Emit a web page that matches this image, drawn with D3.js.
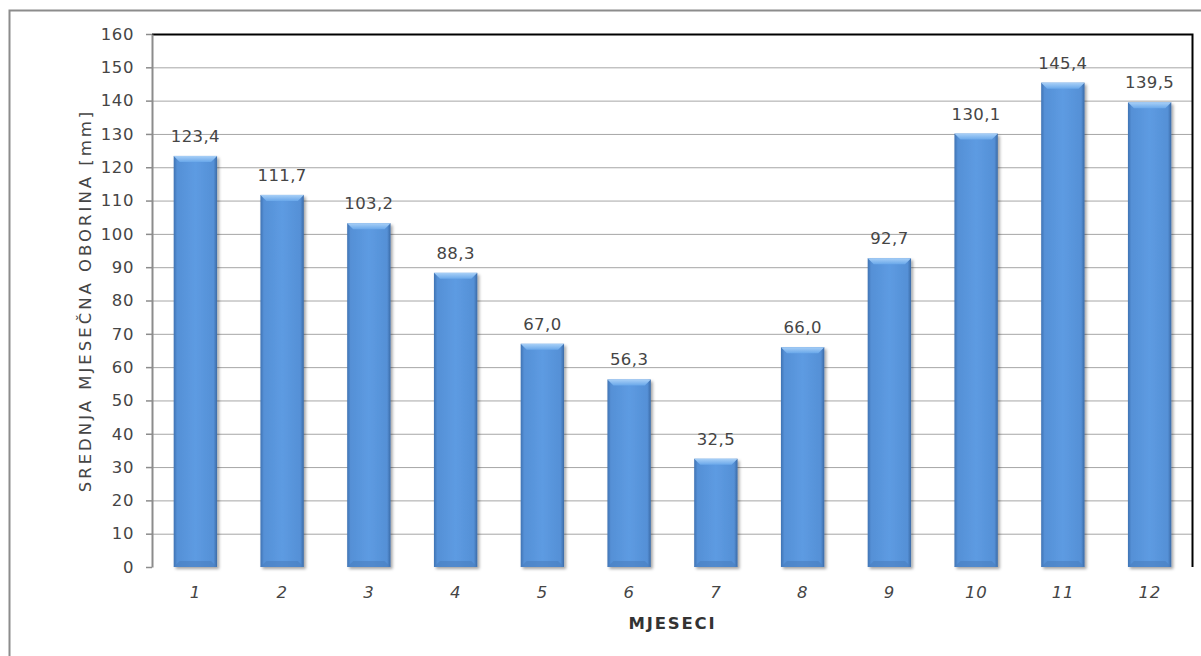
<!DOCTYPE html>
<html>
<head>
<meta charset="utf-8">
<script src="https://cdn.jsdelivr.net/npm/d3@7"></script>
<style>
  html, body { margin: 0; padding: 0; background: #fff; }
  svg { display: block; font-family: "DejaVu Sans", "Open Sans", sans-serif; }
</style>
</head>
<body>
<svg id="chart" width="1201" height="656"></svg>
<script>
// Mean monthly precipitation (mm) by month
const months = ["1", "2", "3", "4", "5", "6", "7", "8", "9", "10", "11", "12"];
const precipitation = [123.4, 111.7, 103.2, 88.3, 67.0, 56.3, 32.5, 66.0, 92.7, 130.1, 145.4, 139.5];
const yTicks = [0, 10, 20, 30, 40, 50, 60, 70, 80, 90, 100, 110, 120, 130, 140, 150, 160];

const svg = d3.select("#chart");
const W = 1201, H = 656;
const plot = { left: 152, right: 1193, top: 34, bottom: 567 };
const textColor = "#454545";
const fontSize = "16.5px";

// outer frame of the chart area
svg.append("rect")
  .attr("x", 9.5).attr("y", 10.5)
  .attr("width", W).attr("height", H)
  .attr("fill", "#fff").attr("stroke", "#8c8c8c").attr("stroke-width", 2);

const x = d3.scaleBand().domain(months).range([plot.left, plot.right]).paddingInner(0.5).paddingOuter(0.25);
const y = d3.scaleLinear().domain([0, 160]).range([plot.bottom, plot.top]);

const defs = svg.append("defs");
const grad = defs.append("linearGradient").attr("id", "barGrad").attr("x1", 0).attr("x2", 1).attr("y1", 0).attr("y2", 0);
grad.append("stop").attr("offset", "0%").attr("stop-color", "#3f73b3");
grad.append("stop").attr("offset", "8%").attr("stop-color", "#5590d6");
grad.append("stop").attr("offset", "50%").attr("stop-color", "#5d9be2");
grad.append("stop").attr("offset", "92%").attr("stop-color", "#5590d6");
grad.append("stop").attr("offset", "100%").attr("stop-color", "#3b6aa6");
const bevel = defs.append("linearGradient").attr("id", "bevelGrad").attr("x1", 0).attr("x2", 0).attr("y1", 0).attr("y2", 1);
bevel.append("stop").attr("offset", "0%").attr("stop-color", "#a9d0f7");
bevel.append("stop").attr("offset", "100%").attr("stop-color", "#6aa8ea");
const shadow = defs.append("filter").attr("id", "shadow").attr("x", "-20%").attr("y", "-5%").attr("width", "150%").attr("height", "115%");
shadow.append("feDropShadow").attr("dx", 2).attr("dy", 2).attr("stdDeviation", 1.6).attr("flood-color", "#000").attr("flood-opacity", 0.35);

// horizontal gridlines
svg.append("g").selectAll("line").data(yTicks.filter(d => d > 0 && d < 160)).join("line")
  .attr("x1", plot.left).attr("x2", plot.right)
  .attr("y1", d => y(d) + 0.5).attr("y2", d => y(d) + 0.5)
  .attr("stroke", "#a6a6a6").attr("stroke-width", 1);

// top and right plot borders
svg.append("path")
  .attr("d", `M${plot.left},${plot.top + 0.5}H${plot.right - 0.5}V${plot.bottom}`)
  .attr("fill", "none").attr("stroke", "#000").attr("stroke-width", 2);

// bottom axis with a soft shadow
svg.append("line")
  .attr("x1", plot.left).attr("x2", plot.right).attr("y1", plot.bottom + 0.5).attr("y2", plot.bottom + 0.5)
  .attr("stroke", "#8c8c8c").attr("stroke-width", 2).attr("filter", "url(#shadow)");

// y axis
const yAxis = svg.append("g").attr("transform", `translate(${plot.left},0)`)
  .call(d3.axisLeft(y).tickValues(yTicks).tickSize(6).tickPadding(12).tickSizeOuter(0));
yAxis.select(".domain").attr("stroke", "#8c8c8c").attr("stroke-width", 2);
yAxis.selectAll(".tick line").attr("stroke", "#8c8c8c").attr("stroke-width", 1.5);
yAxis.selectAll(".tick text").attr("fill", textColor)
  .style("font-size", fontSize).style("font-family", "DejaVu Sans").style("letter-spacing", "0.6px");

// x axis labels
const xAxis = svg.append("g").attr("transform", `translate(0,${plot.bottom})`)
  .call(d3.axisBottom(x).tickSize(0).tickPadding(19));
xAxis.select(".domain").remove();
xAxis.selectAll(".tick text").attr("fill", textColor)
  .style("font-size", fontSize).style("font-style", "italic").style("font-family", "DejaVu Sans").style("letter-spacing", "0.6px");

// bars
const bars = svg.append("g").selectAll("g").data(precipitation).join("g");
bars.append("rect")
  .attr("x", (d, i) => x(months[i]))
  .attr("y", d => y(d))
  .attr("width", x.bandwidth())
  .attr("height", d => y(0) - y(d))
  .attr("fill", "url(#barGrad)")
  .attr("filter", "url(#shadow)");
// top bevel
bars.append("path")
  .attr("d", (d, i) => {
    const x0 = x(months[i]), x1 = x0 + x.bandwidth(), t = y(d), b = 6;
    return `M${x0},${t}H${x1}L${x1 - b},${t + b}H${x0 + b}Z`;
  })
  .attr("fill", "url(#bevelGrad)");
// bottom shading
bars.append("path")
  .attr("d", (d, i) => {
    const x0 = x(months[i]), x1 = x0 + x.bandwidth(), bt = y(0), b = 6;
    return `M${x0},${bt}H${x1}L${x1 - b},${bt - b}H${x0 + b}Z`;
  })
  .attr("fill", "#4a7fc0").attr("opacity", 0.6);

// value labels
svg.append("g").selectAll("text").data(precipitation).join("text")
  .attr("x", (d, i) => x(months[i]) + x.bandwidth() / 2)
  .attr("y", d => y(d) - 14)
  .attr("text-anchor", "middle")
  .attr("fill", textColor)
  .style("font-size", fontSize).style("letter-spacing", "0.4px")
  .text(d => d.toFixed(1).replace(".", ","));

// axis titles
svg.append("text")
  .attr("x", (plot.left + plot.right) / 2).attr("y", 629)
  .attr("text-anchor", "middle").attr("fill", "#333")
  .style("font-size", "16.5px").style("font-weight", "bold").style("letter-spacing", "1.8px")
  .text("MJESECI");
svg.append("text")
  .attr("transform", `translate(91,${(plot.top + plot.bottom) / 2}) rotate(-90)`)
  .attr("text-anchor", "middle").attr("fill", textColor)
  .style("font-size", "16.5px").style("letter-spacing", "3px")
  .text("SREDNJA MJESEČNA OBORINA [mm]");
</script>
</body>
</html>
